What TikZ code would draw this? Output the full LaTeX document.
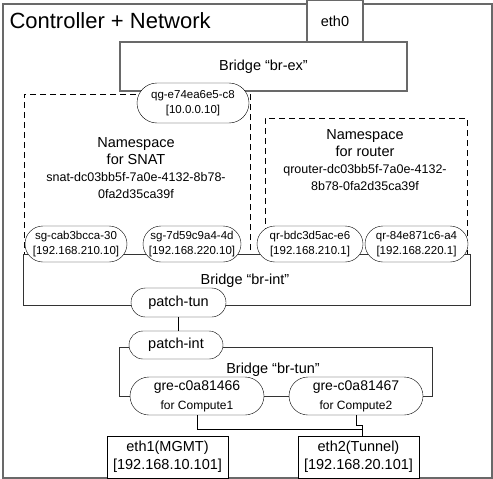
\documentclass[tikz,border=0pt]{standalone}
\usepackage{fontspec}
\setmainfont{Liberation Sans}
\usetikzlibrary{positioning,calc,shapes.misc}
\definecolor{framegray}{RGB}{105,105,105}

\begin{document}
\begin{tikzpicture}[x=1pt,y=-1pt,
		box/.style={draw=black!80, inner sep=0pt, align=center},
		ns/.style={draw, dash pattern=on 6pt off 4pt, inner sep=0pt, anchor=north west},
		port/.style={draw, fill=white, rounded rectangle, inner sep=0pt, align=center, minimum height=36pt, font=\fontsize{11.5}{15.5}\selectfont},
		lbl/.style={align=center, font=\fontsize{14.5}{17}\selectfont}]
			\useasboundingbox (0,0) rectangle (493,479);
			\node[box, draw=framegray, line width=2pt, minimum width=489pt, minimum height=474pt, anchor=north west] (host) at (2,3) {};
			\node[anchor=base west, font=\fontsize{22}{26}\selectfont] (title) at (6,28) {Controller + Network};
			\node[box, lbl, draw=framegray, line width=1.2pt, minimum width=287pt, minimum height=49pt] (brex) at (263.5,66.5) {Bridge “br-ex”};
			\node[box, lbl, draw=framegray, line width=1.5pt, fill=white, minimum width=56pt, minimum height=42pt] (eth0) at (335,21) {eth0};
			% namespaces
			\node[ns, minimum width=226pt, minimum height=160pt] (snat) at (24,94) {};
			\node[ns, minimum width=202pt, minimum height=136pt] (router) at (265,118) {};
			\node[lbl] (snatname) at (136,151.5) {Namespace\\for SNAT};
			\node[align=center, font=\fontsize{12.5}{17}\selectfont] (snatid) at (136,185.5) {snat-dc03bb5f-7a0e-4132-8b78-\\0fa2d35ca39f};
			\node[lbl] (routername) at (365,143.5) {Namespace\\for router};
			\node[align=center, font=\fontsize{12.5}{17}\selectfont] (routerid) at (365,177.5) {qrouter-dc03bb5f-7a0e-4132-\\8b78-0fa2d35ca39f};
			\node[port, minimum width=112pt, minimum height=40pt] (qg) at (193,103) {qg-e74ea6e5-c8\\{}[10.0.0.10]};
			% br-int
			\node[box, minimum width=447pt, minimum height=51pt] (brint) at (246.5,279.5) {};
			\node[lbl] (brintl) at (245,281) {Bridge “br-int”};
			\node[port, minimum width=102pt] (sg1) at (76,244) {sg-cab3bcca-30\\{}[192.168.210.10]};
			\node[port, minimum width=98pt] (sg2) at (192,244) {sg-7d59c9a4-4d\\{}[192.168.220.10]};
			\node[port, minimum width=106pt] (qr1) at (310,244) {qr-bdc3d5ac-e6\\{}[192.168.210.1]};
			\node[port, minimum width=103pt] (qr2) at (416.5,244) {qr-84e871c6-a4\\{}[192.168.220.1]};
			\node[port, lbl, minimum width=95pt, minimum height=29pt] (ptun) at (178.5,302.5) {patch-tun};
			% br-tun
			\node[box, minimum width=313pt, minimum height=49pt] (brtun) at (275.5,371.5) {};
			\node[lbl] (brtunl) at (273,370) {Bridge “br-tun”};
			\node[port, lbl, minimum width=94pt, minimum height=28pt] (pint) at (176,345) {patch-int};
			\node[port, font=\fontsize{14}{16}\selectfont, minimum width=134pt, minimum height=38pt] (gre1) at (197,396) {gre-c0a81466\\[3pt]{\fontsize{12}{14}\selectfont for Compute1}};
			\node[port, font=\fontsize{14}{16}\selectfont, minimum width=134pt, minimum height=38pt] (gre2) at (356,396) {gre-c0a81467\\[3pt]{\fontsize{12}{14}\selectfont for Compute2}};
			% physical
			\node[box, lbl, draw=black, fill=white, minimum width=121pt, minimum height=42pt, font=\fontsize{14.5}{18}\selectfont] (eth1) at (167.5,457) {eth1(MGMT)\\{}[192.168.10.101]};
			\node[box, lbl, draw=black, fill=white, minimum width=121pt, minimum height=42pt, font=\fontsize{14.5}{18}\selectfont] (eth2) at (358.5,457) {eth2(Tunnel)\\{}[192.168.20.101]};
			\coordinate (jn) at (362,429);
			
			\draw (ptun.south)--(ptun.south |- pint.north);
			\draw (gre1.south) |- (jn)--(jn |- eth2.north);
			\draw (gre2.south) |- ([yshift=4pt]jn)--(jn);
		\end{tikzpicture}
\end{document}
